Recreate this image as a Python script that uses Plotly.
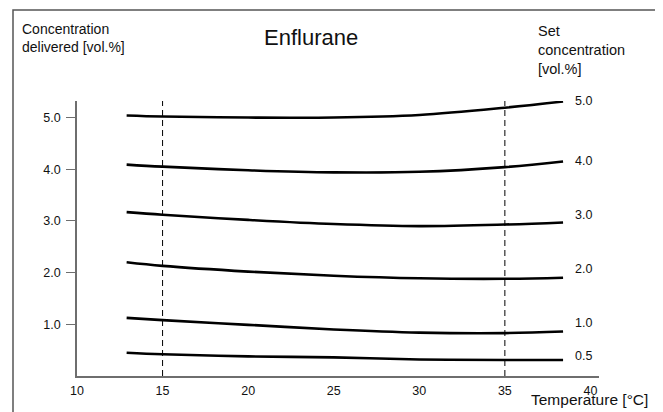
import plotly.graph_objects as go

# ---- data ----
temperatures = [12.9, 15, 20, 25, 30, 35, 38.4]
set_labels = ["5.0", "4.0", "3.0", "2.0", "1.0", "0.5"]
delivered_5_0 = [5.04, 5.02, 5.00, 5.00, 5.05, 5.19, 5.31]
delivered_4_0 = [4.09, 4.05, 3.98, 3.94, 3.95, 4.04, 4.15]
delivered_3_0 = [3.17, 3.12, 3.02, 2.94, 2.90, 2.93, 2.97]
delivered_2_0 = [2.20, 2.13, 2.02, 1.94, 1.89, 1.88, 1.90]
delivered_1_0 = [1.125, 1.08, 0.99, 0.90, 0.84, 0.83, 0.86]
delivered_0_5 = [0.45, 0.42, 0.38, 0.36, 0.32, 0.31, 0.31]
x_ticks = [10, 15, 20, 25, 30, 35, 40]
y_ticks = [1.0, 2.0, 3.0, 4.0, 5.0]
y_tick_labels = ["1.0", "2.0", "3.0", "4.0", "5.0"]
reference_temps = [15, 35]

series = [delivered_5_0, delivered_4_0, delivered_3_0,
          delivered_2_0, delivered_1_0, delivered_0_5]
label_yshift = [1, 0, 7, 9, 9, 4]

# The page body has an 8px margin, so the figure is drawn offset by (8, 8).
OFF = 8
SCREEN_W, SCREEN_H = 663, 412
W, H = SCREEN_W - OFF, SCREEN_H - OFF
# plot area in screen pixels: x 77..599, y 101..376
L, R, T, B = 77 - OFF, SCREEN_W - 599, 101 - OFF, SCREEN_H - 376
PW, PH = W - L - R, H - T - B
FONT = "Liberation Sans, Arial, Helvetica, sans-serif"


def pxx(px):
    return (px - OFF - L) / PW


def pxy(py):
    return (H - B - (py - OFF)) / PH


fig = go.Figure()
for vals in series:
    fig.add_trace(go.Scatter(
        x=temperatures, y=vals, mode="lines", cliponaxis=False,
        line=dict(color="black", width=2.6, shape="spline", smoothing=1.0),
        hoverinfo="skip", showlegend=False))

shapes = []
for t in reference_temps:
    shapes.append(dict(type="line", xref="x", yref="paper", x0=t, x1=t, y0=0, y1=1,
                       line=dict(color="black", width=1, dash="6px,4px")))
# frame around the figure (open at the bottom)
fx0, fx1, fy0, fy1 = pxx(13), pxx(659.5), pxy(10), pxy(420)
shapes.append(dict(type="path", xref="paper", yref="paper",
                   path=f"M {fx0} {fy1} L {fx0} {fy0} L {fx1} {fy0} L {fx1} {fy1}",
                   line=dict(color="#555555", width=1.5), layer="above"))

annotations = []
for lab, vals, ys in zip(set_labels, series, label_yshift):
    annotations.append(dict(x=39.0, y=vals[-1], xref="x", yref="y", text=lab,
                            showarrow=False, xanchor="left", yanchor="middle",
                            yshift=ys, font=dict(size=12.5, color="#111", family=FONT)))

annotations += [
    dict(x=pxx(20), y=pxy(38), xref="paper", yref="paper",
         text="Concentration<br>delivered [vol.%]", showarrow=False,
         xanchor="left", yanchor="middle", align="left",
         font=dict(size=14, color="#111", family=FONT)),
    dict(x=pxx(311), y=pxy(37), xref="paper", yref="paper",
         text="Enflurane", showarrow=False, xanchor="center", yanchor="middle",
         font=dict(size=22, color="#111", family=FONT)),
    dict(x=pxx(536), y=pxy(21), xref="paper", yref="paper",
         text="Set<br>concentration<br>[vol.%]", showarrow=False,
         xanchor="left", yanchor="top", align="left",
         font=dict(size=14.5, color="#111", family=FONT)),
    dict(x=pxx(529), y=pxy(399), xref="paper", yref="paper",
         text="Temperature [°C]", showarrow=False,
         xanchor="left", yanchor="middle", align="left",
         font=dict(size=15.5, color="#111", family=FONT)),
]

fig.update_layout(
    width=W, height=H,
    margin=dict(l=L, r=R, t=T, b=B, pad=0),
    paper_bgcolor="white", plot_bgcolor="white",
    font=dict(family=FONT, color="#111"),
    shapes=shapes, annotations=annotations,
    showlegend=False,
)
fig.update_xaxes(range=[10, 40.5], tickvals=x_ticks, ticktext=[str(v) for v in x_ticks],
                 showgrid=False, zeroline=False, showline=True, linecolor="#6e6e6e",
                 linewidth=1.5, ticks="", tickfont=dict(size=12.5, color="#111"),
                 ticklabelstandoff=2)
fig.update_yaxes(range=[0, 5.32], tickvals=y_ticks, ticktext=y_tick_labels,
                 showgrid=False, zeroline=False, showline=True, linecolor="#6e6e6e",
                 linewidth=1.5, ticks="outside", ticklen=9, tickcolor="#6e6e6e",
                 tickwidth=1.2, tickfont=dict(size=12.5, color="#111"),
                 ticklabelstandoff=3)

fig.write_html("out.html")
